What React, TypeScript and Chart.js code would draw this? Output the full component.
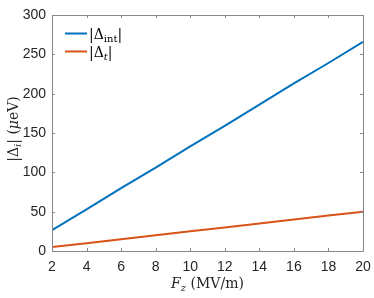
import React, { useEffect, useRef } from "react";
import { Chart, registerables } from "chart.js";

Chart.register(...registerables);

const fieldValues = [2, 4, 6, 8, 10, 12, 14, 16, 18, 20];
const deltaInt = [26.5, 53, 80, 106, 133, 159, 186, 213, 239, 266];
const deltaT = [5, 10, 15, 20, 25, 30, 35, 40, 45, 50];
const xTicks = [2, 4, 6, 8, 10, 12, 14, 16, 18, 20];
const yTicks = [0, 50, 100, 150, 200, 250, 300];
const seriesNames = ["|Δint|", "|Δt|"];
const seriesColors = ["#0072BD", "#D95319"];

type Seg = { t: string; it?: boolean; sub?: boolean };

const SERIF = '"DejaVu Serif", "Liberation Serif", serif';

function drawRich(ctx: CanvasRenderingContext2D, segs: Seg[], x: number, y: number, size: number, align: "left" | "center") {
  const fontFor = (s: Seg) => `${s.it ? "italic " : ""}${s.sub ? Math.round(size * 0.7) : size}px ${SERIF}`;
  let total = 0;
  for (const s of segs) {
    ctx.font = fontFor(s);
    total += ctx.measureText(s.t).width;
  }
  let cx = align === "center" ? x - total / 2 : x;
  ctx.textBaseline = "alphabetic";
  ctx.textAlign = "left";
  for (const s of segs) {
    ctx.font = fontFor(s);
    ctx.fillText(s.t, cx, s.sub ? y + size * 0.22 : y);
    cx += ctx.measureText(s.t).width;
  }
}

const decor = {
  id: "decor",
  afterDraw(chart: any) {
    const ctx: CanvasRenderingContext2D = chart.ctx;
    const { left, right, top, bottom } = chart.chartArea;
    const xs = chart.scales.x;
    const ys = chart.scales.y;
    ctx.save();
    ctx.strokeStyle = "#868686";
    ctx.lineWidth = 1;
    ctx.beginPath();
    ctx.rect(Math.round(left) + 0.5, Math.round(top) + 0.5, Math.round(right - left), Math.round(bottom - top));
    ctx.stroke();
    const tl = 3;
    ctx.beginPath();
    for (const v of xTicks) {
      const px = Math.round(xs.getPixelForValue(v)) + 0.5;
      ctx.moveTo(px, bottom);
      ctx.lineTo(px, bottom - tl);
      ctx.moveTo(px, top);
      ctx.lineTo(px, top + tl);
    }
    for (const v of yTicks) {
      const py = Math.round(ys.getPixelForValue(v)) + 0.5;
      ctx.moveTo(left, py);
      ctx.lineTo(left + tl, py);
      ctx.moveTo(right, py);
      ctx.lineTo(right - tl, py);
    }
    ctx.stroke();

    ctx.fillStyle = "#262626";
    // x title
    drawRich(ctx, [{ t: "F", it: true }, { t: "z", it: true, sub: true }, { t: " (MV/m)" }], (left + right) / 2, 288, 14, "center");
    // y title
    ctx.save();
    ctx.translate(18, 129);
    ctx.rotate(-Math.PI / 2);
    drawRich(ctx, [{ t: "|Δ" }, { t: "i", it: true, sub: true }, { t: "| (" }, { t: "μ", it: true }, { t: "eV)" }], 0, 0, 14, "center");
    ctx.restore();

    // legend
    const legendSegs: Seg[][] = [
      [{ t: "|Δ" }, { t: "int", sub: true }, { t: "|" }],
      [{ t: "|Δ" }, { t: "t", it: true, sub: true }, { t: "|" }],
    ];
    const ly = [33.5, 51.5];
    for (let i = 0; i < 2; i++) {
      ctx.strokeStyle = seriesColors[i];
      ctx.lineWidth = 2;
      ctx.beginPath();
      ctx.moveTo(65, ly[i]);
      ctx.lineTo(87, ly[i]);
      ctx.stroke();
      ctx.fillStyle = "#000";
      drawRich(ctx, legendSegs[i], 89, ly[i] + 5, 14, "left");
    }
    ctx.restore();
  },
};

export default function App() {
  const ref = useRef<HTMLCanvasElement>(null);
  useEffect(() => {
    const chart = new Chart(ref.current!, {
      type: "line",
      data: {
        datasets: [
          {
            label: seriesNames[0],
            data: fieldValues.map((x, i) => ({ x, y: deltaInt[i] })),
            borderColor: seriesColors[0],
            borderWidth: 2,
            pointRadius: 0,
            tension: 0,
          },
          {
            label: seriesNames[1],
            data: fieldValues.map((x, i) => ({ x, y: deltaT[i] })),
            borderColor: seriesColors[1],
            borderWidth: 2,
            pointRadius: 0,
            tension: 0,
          },
        ],
      },
      options: {
        animation: false,
        responsive: false,
        layout: { padding: { top: 15, right: 11, left: 0, bottom: 0 } },
        plugins: { legend: { display: false }, tooltip: { enabled: false } },
        scales: {
          x: {
            type: "linear",
            min: 2,
            max: 20,
            afterBuildTicks: (s: any) => {
              s.ticks = xTicks.map((v) => ({ value: v }));
            },
            afterFit: (s: any) => {
              s.height = 47;
              s.paddingLeft = 0;
              s.paddingRight = 0;
            },
            grid: { display: false, drawTicks: false },
            border: { display: false },
            ticks: { color: "#262626", font: { family: '"Liberation Sans", Arial, sans-serif', size: 14 }, padding: 8, maxRotation: 0, autoSkip: false },
          },
          y: {
            type: "linear",
            min: 0,
            max: 300,
            afterBuildTicks: (s: any) => {
              s.ticks = yTicks.map((v) => ({ value: v }));
            },
            afterFit: (s: any) => {
              s.width = 52;
              s.paddingTop = 0;
              s.paddingBottom = 0;
            },
            grid: { display: false, drawTicks: false },
            border: { display: false },
            ticks: { color: "#262626", font: { family: '"Liberation Sans", Arial, sans-serif', size: 14 }, padding: 6, autoSkip: false },
          },
        },
      },
      plugins: [decor],
    } as any);
    return () => chart.destroy();
  }, []);
  return (
    <div style={{ position: "fixed", left: 0, top: 0, width: 374, height: 298, background: "#fff" }}>
      <canvas ref={ref} width={374} height={298} style={{ display: "block" }} />
    </div>
  );
}
